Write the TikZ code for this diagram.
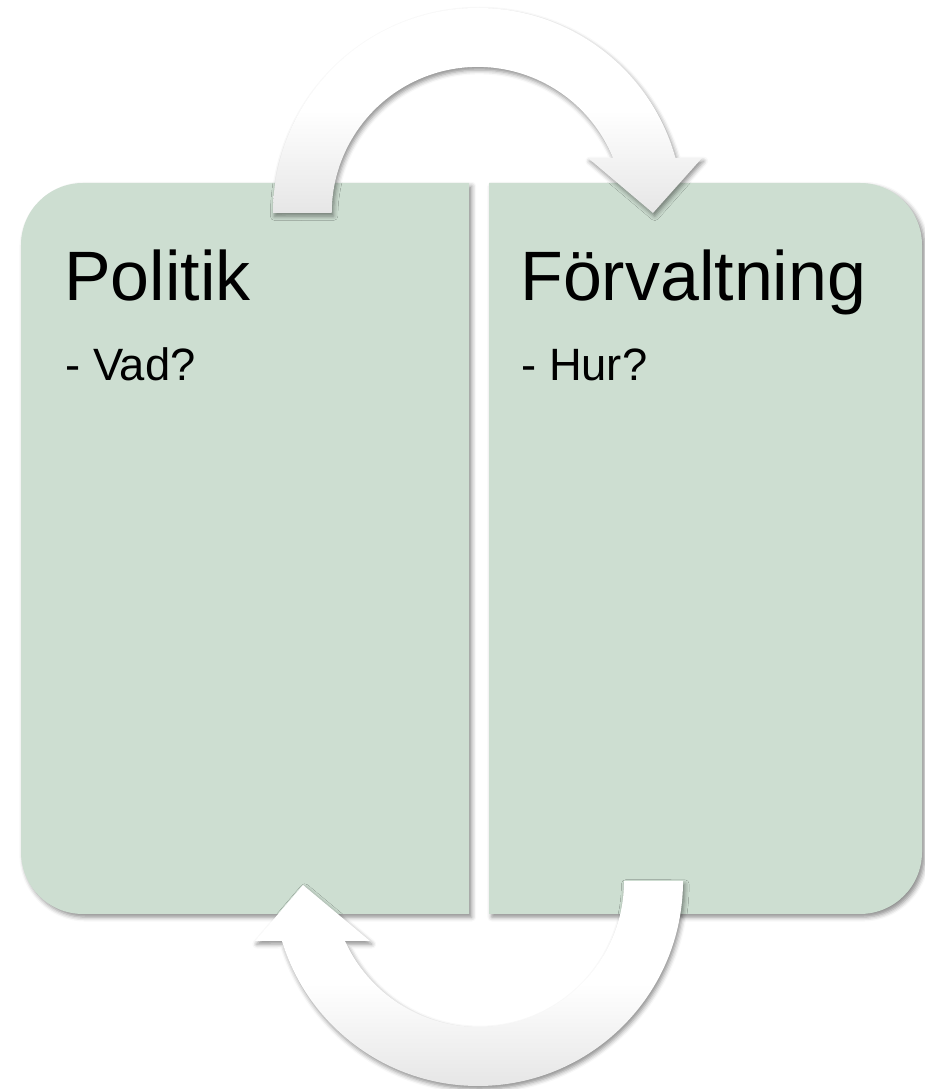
\documentclass[tikz,border=0pt]{standalone}
\usepackage{fontspec}
\setmainfont{Liberation Sans}
\usepackage{tikz}
\usetikzlibrary{positioning}
\usetikzlibrary{shadows,shadows.blur}
\definecolor{panelgreen}{RGB}{205,222,209}
\definecolor{arrowgray}{RGB}{230,230,230}
\tikzstyle{panel} = [fill=panelgreen, draw=none, blur shadow={shadow xshift=1.6pt, shadow yshift=-1.8pt, shadow blur radius=2.5pt, shadow opacity=45}]
\tikzstyle{loop} = [top color=white, bottom color=arrowgray, middle color=white, draw=none, blur shadow={shadow xshift=1pt, shadow yshift=-1.8pt, shadow blur radius=2.5pt, shadow opacity=45}]
\tikzstyle{title} = [anchor=base west, inner sep=0pt, font=\fontsize{39.8pt}{48pt}\selectfont]
\tikzstyle{question} = [anchor=base west, inner sep=0pt, font=\fontsize{25.8pt}{31pt}\selectfont]

\begin{document}
\begin{tikzpicture}[x=0.02cm, y=0.02cm]
	\useasboundingbox (0,0) rectangle (924,1089);

	% the two panels
	\path [panel] (469,906) -- (83,906) arc[start angle=90, end angle=180, radius=62]
		-- (21,237) arc[start angle=180, end angle=270, radius=62] -- (469,175) -- cycle;
	\path [panel] (489,906) -- (860,906) arc[start angle=90, end angle=0, radius=62]
		-- (922,237) arc[start angle=0, end angle=-90, radius=62] -- (489,175) -- cycle;

	\node [title] (politik) at (64,788) {Politik};
	\node [question] (vad) at (65,708) {- Vad?};
	\node [title] (forvaltning) at (520,788) {Förvaltning};
	\node [question] (hur) at (521,708) {- Hur?};

	% loop arrows
	\coordinate (topc) at (478,876);
	\coordinate (botc) at (478,208);
	\path [loop] (273,876) arc[start angle=180, end angle=15.6, radius=205]
		-- (702,931) -- (653,876) -- (588,931) -- (613,931)
		arc[start angle=22.1, end angle=180, radius=146] -- cycle;
	\path [loop] (683,208) arc[start angle=0, end angle=-163, radius=205]
		-- (255,148) -- (303,204) -- (370,148) -- (345,148)
		arc[start angle=-155.7, end angle=0, radius=146] -- cycle;

\end{tikzpicture}
\end{document}
